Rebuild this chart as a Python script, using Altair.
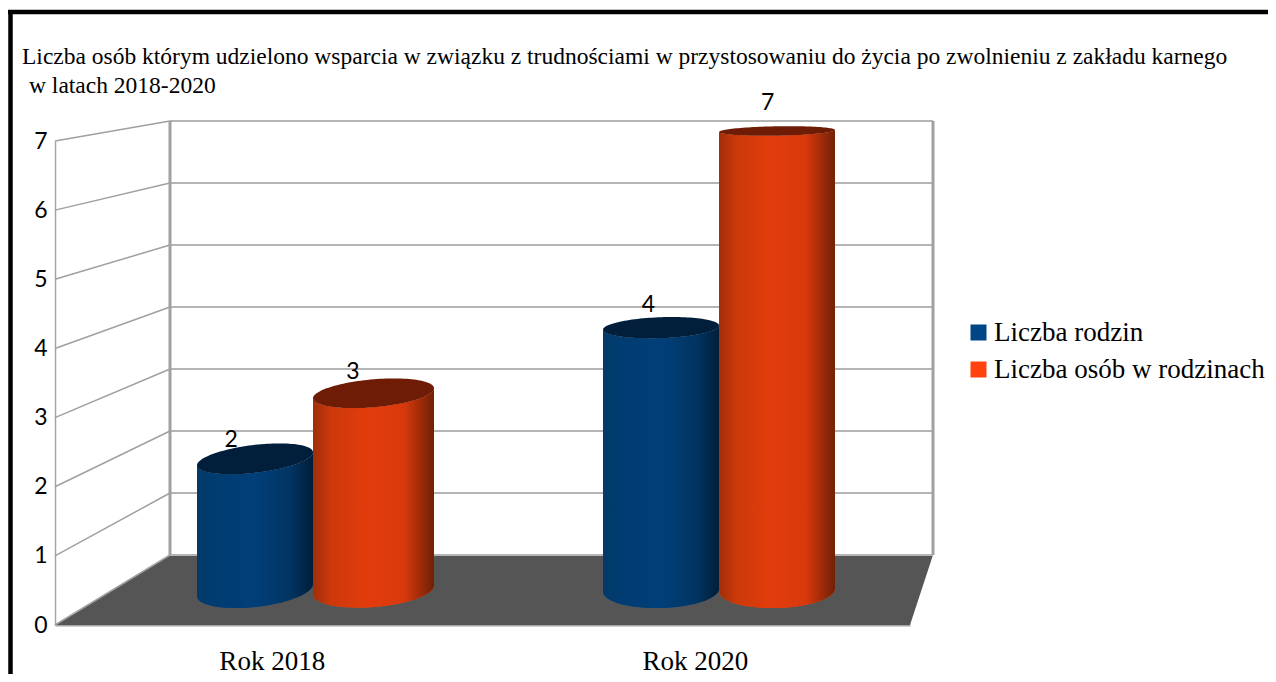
import altair as alt
import numpy as np
import pandas as pd

categories = ["Rok 2018", "Rok 2020"]
series = ["Liczba rodzin", "Liczba osób w rodzinach"]
liczba_rodzin = [2, 4]
liczba_osob = [3, 7]
title_line = "Liczba osób którym udzielono wsparcia w związku z trudnościami w przystosowaniu do życia po zwolnieniu z zakładu karnego"
title_line2 = "w latach 2018-2020"

# plot area = front plane of the 3D box
W, H = 855, 484
LEFT, TOP = 47, 133
UX, UY = W / 2, H / 7   # px per category unit, px per value unit


def px_x(p):
    return p / UX


def px_y(p):
    return p / UY


def proj(u, v, d):
    """Project category position u, value v at depth d (0 front, 1 back) to front-plane units."""
    X = (115 * d + (UX - 46 * d) * u) / UX
    Y = (70 * d + (UY - 7.14 * d) * v) / UY
    return X, Y


# ---- box ----
_, back0 = proj(0, 0, 1)
floor = []
for i, (u, d) in enumerate([(0, 0), (0, 1), (2, 0), (2, 1)]):
    X, Y = proj(u, 0, d)
    floor.append({"i": i, "x": X, "lo": 0.0 if i == 0 else back0, "hi": back0 if i == 3 else 0.0})
floor_df = pd.DataFrame(floor)

walls, side, posts = [], [], []
for v in range(8):
    for j, u in enumerate([0, 2]):
        X, Y = proj(u, v, 1)
        walls.append({"id": f"g{v}", "i": j, "x": X, "y": Y})
    for j, d in enumerate([0, 1]):
        X, Y = proj(0, v, d)
        side.append({"id": f"s{v}", "i": j, "x": X, "y": Y})
for name, u in [("l", 0), ("r", 2)]:
    for j, v in enumerate([0, 7]):
        X, Y = proj(u, v, 1)
        posts.append({"id": name, "i": j, "x": X, "y": Y})
walls_df = pd.DataFrame(walls)
side_df = pd.DataFrame(side)
posts_df = pd.DataFrame(posts)

# ---- cylinders ----
u_edges = [(0.2089, 0.4957), (0.4957, 0.7948), (1.2126, 1.4996), (1.4996, 1.7861)]
top_b = [14, 14, 10.5, 4.7]
top_tilt = [6.5, 5, 2, 1]
bot_b = [17, 17, 18, 18]
bot_tilt = [6, 4.5, 1.5, 1.5]
cyl_series = [series[0], series[1], series[0], series[1]]
cyl_vals = [liczba_rodzin[0], liczba_osob[0], liczba_rodzin[1], liczba_osob[1]]
cyl_cat = [categories[0], categories[0], categories[1], categories[1]]

t = -np.cos(np.linspace(0, np.pi, 61))
body, tops, labels = [], [], []
for k in range(4):
    u0, u1 = u_edges[k]
    uc, ua = (u0 + u1) / 2, (u1 - u0) / 2
    v = cyl_vals[k]
    _, yt = proj(uc, v, 0.5)
    _, yb = proj(uc, 0, 0.5)
    for i, tt in enumerate(t):
        X, _ = proj(uc + ua * tt, 0, 0.5)
        s = np.sqrt(max(0, 1 - tt * tt))
        ytc = yt + px_y(top_tilt[k]) * tt
        ybc = yb + px_y(bot_tilt[k]) * tt
        body.append({"id": f"c{k}", "series": cyl_series[k], "i": i, "x": X,
                     "lo": ytc - px_y(top_b[k]) * s, "hi": ybc - px_y(bot_b[k]) * s})
        tops.append({"id": f"c{k}", "series": cyl_series[k], "i": i, "x": X,
                     "lo": ytc + px_y(top_b[k]) * s, "hi": ytc - px_y(top_b[k]) * s})
    X, Y = proj(uc, v, 0.26)
    labels.append({"x": X, "y": Y, "value": v, "category": cyl_cat[k], "series": cyl_series[k]})
body_df = pd.DataFrame(body)
tops_df = pd.DataFrame(tops)
labels_df = pd.DataFrame(labels)

# ---- frame ----
frame_df = pd.DataFrame([
    {"id": "top", "i": 0, "x": px_x(-47), "y": px_y(H + 129)},
    {"id": "top", "i": 1, "x": px_x(1213), "y": px_y(H + 129)},
    {"id": "left", "i": 0, "x": px_x(-44.5), "y": px_y(H + 131)},
    {"id": "left", "i": 1, "x": px_x(-44.5), "y": px_y(-49)},
])
line2_df = pd.DataFrame([{"x": px_x(-26), "y": px_y(H + 48), "text": title_line2}])

x_scale = alt.Scale(domain=[0, 2], nice=False, zero=False)
y_scale = alt.Scale(domain=[0, 7], nice=False, zero=False)
X_ = alt.X("x:Q", scale=x_scale, title=None)
Y_ = alt.Y("y:Q", scale=y_scale, title=None)
A_ = alt.Y("lo:Q", scale=y_scale, title=None)
A2_ = alt.Y2("hi:Q")


def grad(stops):
    return alt.Gradient(gradient="linear", x1=0, x2=1, y1=0, y2=0,
                        stops=[alt.GradientStop(offset=o, color=c) for o, c in stops])


axis_x = alt.Axis(values=[0.507, 1.497], labelExpr="datum.value < 1 ? 'Rok 2018' : 'Rok 2020'",
                  grid=False, ticks=False, domain=True, domainColor="#a6a6a6", domainWidth=2,
                  labelFont="Liberation Serif", labelFontSize=27, labelColor="#000000",
                  labelPadding=23, labelAngle=0)
axis_y = alt.Axis(values=list(range(8)), format="d", grid=False, ticks=False, domain=True,
                  domainColor="#a6a6a6", domainWidth=1.5,
                  labelFont="Lato", labelFontSize=23, labelColor="#000000", labelPadding=8)

floor_layer = alt.Chart(floor_df).mark_area(color="#555555").encode(
    x=alt.X("x:Q", scale=x_scale, axis=axis_x, title=None),
    y=alt.Y("lo:Q", scale=y_scale, axis=axis_y, title=None),
    y2=A2_)

wall_layer = alt.Chart(walls_df).mark_line(color="#b4b4b4", strokeWidth=2).encode(
    x=X_, y=Y_, detail="id:N", order="i:Q")
post_layer = alt.Chart(posts_df).mark_line(color="#a0a0a0", strokeWidth=3).encode(
    x=X_, y=Y_, detail="id:N", order="i:Q")
side_layer = alt.Chart(side_df).mark_line(color="#a0a0a0", strokeWidth=1.5).encode(
    x=X_, y=Y_, detail="id:N", order="i:Q")

flat_layer = alt.Chart(body_df).mark_area().encode(
    x=X_, y=A_, y2=A2_, detail="id:N",
    color=alt.Color("series:N", scale=alt.Scale(domain=series, range=["#004586", "#ff420e"]),
                    legend=alt.Legend(title=None, orient="none", legendX=910, legendY=178,
                                      symbolType="square", symbolSize=256, symbolOpacity=1,
                                      symbolStrokeWidth=0, labelFont="Liberation Serif",
                                      labelFontSize=27, labelColor="#000000", rowPadding=9,
                                      labelOffset=2, labelLimit=400)))

blue_grad = grad([(0, "#023a68"), (0.12, "#013c70"), (0.5, "#013f79"), (0.8, "#013562"), (1, "#011e3a")])
orange_grad = grad([(0, "#a02e08"), (0.15, "#cc390b"), (0.45, "#e33c0c"), (0.75, "#d8390c"), (1, "#702006")])

blue_body = alt.Chart(body_df[body_df.series == series[0]]).mark_area(color=blue_grad).encode(
    x=X_, y=A_, y2=A2_, detail="id:N")
orange_body = alt.Chart(body_df[body_df.series == series[1]]).mark_area(color=orange_grad).encode(
    x=X_, y=A_, y2=A2_, detail="id:N")
blue_top = alt.Chart(tops_df[tops_df.series == series[0]]).mark_area(color="#011f3b").encode(
    x=X_, y=A_, y2=A2_, detail="id:N")
orange_top = alt.Chart(tops_df[tops_df.series == series[1]]).mark_area(color="#6e1c06").encode(
    x=X_, y=A_, y2=A2_, detail="id:N")

label_layer = alt.Chart(labels_df).mark_text(font="Lato", fontSize=23, color="#000000",
                                             baseline="middle", dy=-32.5).encode(
    x=X_, y=Y_, text="value:Q")

line2_layer = alt.Chart(line2_df).mark_text(font="Liberation Serif", fontSize=23.5, color="#000000",
                                            align="left", baseline="alphabetic").encode(
    x=X_, y=Y_, text="text:N")

frame_layer = alt.Chart(frame_df).mark_line(color="#000000", strokeWidth=4.5).encode(
    x=X_, y=Y_, detail="id:N", order="i:Q")

chart = alt.layer(
    floor_layer, side_layer, wall_layer, post_layer, flat_layer,
    blue_body, orange_body, blue_top, orange_top, label_layer, line2_layer, frame_layer,
).properties(
    width=W, height=H,
    padding={"left": LEFT, "top": TOP, "right": 1260 - LEFT - W, "bottom": 666 - TOP - H},
    autosize=alt.AutoSizeParams(type="none"),
    title=alt.TitleParams(text=title_line, anchor="start", frame="group", dx=-33, offset=0, dy=67,
                          font="Liberation Serif", fontSize=23.5, fontWeight="normal",
                          color="#000000", align="left"),
).configure_view(stroke=None).resolve_scale(color="independent")

chart.save("out.html", embed_options={"renderer": "svg", "actions": False})
